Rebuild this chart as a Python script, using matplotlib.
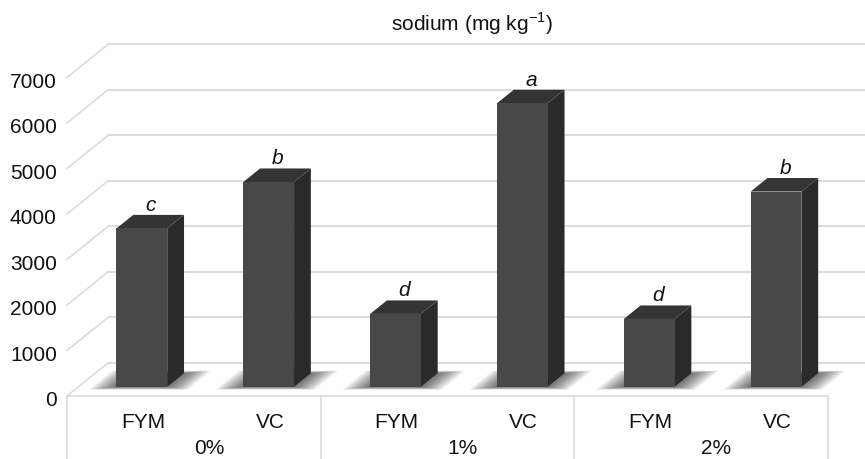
import matplotlib
matplotlib.use("Agg")
import matplotlib.pyplot as plt
import matplotlib.transforms as mtransforms
from matplotlib.patches import Polygon

plt.rcParams["font.family"] = ["Liberation Sans", "DejaVu Sans"]
plt.rcParams["mathtext.fontset"] = "custom"
plt.rcParams["mathtext.rm"] = "Liberation Sans"

# data
groups = ["0%", "1%", "2%"]
fertilizers = ["FYM", "VC"]
sodium = [3480, 4500, 1600, 6230, 1490, 4290]
letters = ["c", "b", "d", "a", "d", "b"]
yticks = [0, 1000, 2000, 3000, 4000, 5000, 6000, 7000]

# fake 3d: oblique offset of the back wall (x in category units, y in value units)
DX, DY = 0.323, 725
D0, D1 = 0.28, 0.69   # depth span of the bars
W = 0.4
GRID = "#d9d9d9"
FS = 15


def proj(x, v, d):
    return (x + d * DX, v + d * DY)


fig = plt.figure(figsize=(8.65, 4.6), dpi=100)
ax = fig.add_axes([0, 0, 1, 1])
ax.set_xlim(-0.528, 6.292)
ax.set_ylim(-1385, 8725)
ax.axis("off")

ncat = len(sodium)

# back wall gridlines + left diagonals
for v in yticks:
    b0 = proj(0, v, 1)
    b1 = proj(ncat + 0.5, v, 1)
    ax.plot([b0[0], b1[0]], [b0[1], b1[1]], color=GRID, lw=1.3, zorder=1)
    f0 = proj(0, v, 0)
    ax.plot([f0[0], b0[0]], [f0[1], b0[1]], color=GRID, lw=1.1, zorder=1)

# floor front edge and category box
ax.plot([0, ncat], [0, 0], color=GRID, lw=1.1, zorder=1)
for x in range(0, ncat + 1, len(fertilizers)):
    ax.plot([x, x], [0, -1385], color=GRID, lw=1.1, zorder=1)

# tick labels
lab_tr = mtransforms.offset_copy(ax.transData, fig=fig, x=0, y=-4, units="dots")
for v in yticks:
    ax.text(-0.08, v, str(v), ha="right", va="center", fontsize=FS,
            color="#111111", transform=lab_tr)

# bars
for i, v in enumerate(sodium):
    c = i + 0.5
    x0, x1 = c - W / 2, c + W / 2
    # soft shadow on the floor
    for k in range(14):
        e = 0.01 + k * 0.014
        sh = [proj(x0 - e, 0, D0 - 0.01 - k * 0.006), proj(x1 + e, 0, D0 - 0.01 - k * 0.006),
              proj(x1 + e, 0, D1 + k * 0.006), proj(x0 - e, 0, D1 + k * 0.006)]
        ax.add_patch(Polygon(sh, closed=True, facecolor="black", edgecolor="none",
                             alpha=0.05, zorder=2))
    front = [proj(x0, 0, D0), proj(x1, 0, D0), proj(x1, v, D0), proj(x0, v, D0)]
    side = [proj(x1, 0, D0), proj(x1, 0, D1), proj(x1, v, D1), proj(x1, v, D0)]
    top = [proj(x0, v, D0), proj(x1, v, D0), proj(x1, v, D1), proj(x0, v, D1)]
    ax.add_patch(Polygon(side, closed=True, facecolor="#2a2a2a", edgecolor="none", zorder=3))
    ax.add_patch(Polygon(top, closed=True, facecolor="#343434", edgecolor="none", zorder=3))
    ax.add_patch(Polygon(front, closed=True, facecolor="#484848", edgecolor="none", zorder=4))

    let_tr = mtransforms.offset_copy(ax.transData, fig=fig, x=0, y=5, units="dots")
    tx, ty = proj(c, v, 0.5)
    ax.text(tx, v + D1 * DY, letters[i], ha="center", va="baseline",
            fontsize=FS, style="italic", color="#111111", transform=let_tr)

# category labels
for i in range(ncat):
    ax.text(i + 0.5 + 0.1, -560, fertilizers[i % len(fertilizers)], ha="center",
            va="center", fontsize=FS, color="#111111")
for g, name in enumerate(groups):
    ax.text(g * 2 + 1 + 0.12, -1130, name, ha="center", va="center",
            fontsize=FS, color="#111111")

fig.text(0.546, 0.948, r"sodium (mg kg$^{\mathregular{-1}}$)", ha="center",
         va="center", fontsize=FS, color="#111111")

fig.savefig("out.png", dpi=100)
